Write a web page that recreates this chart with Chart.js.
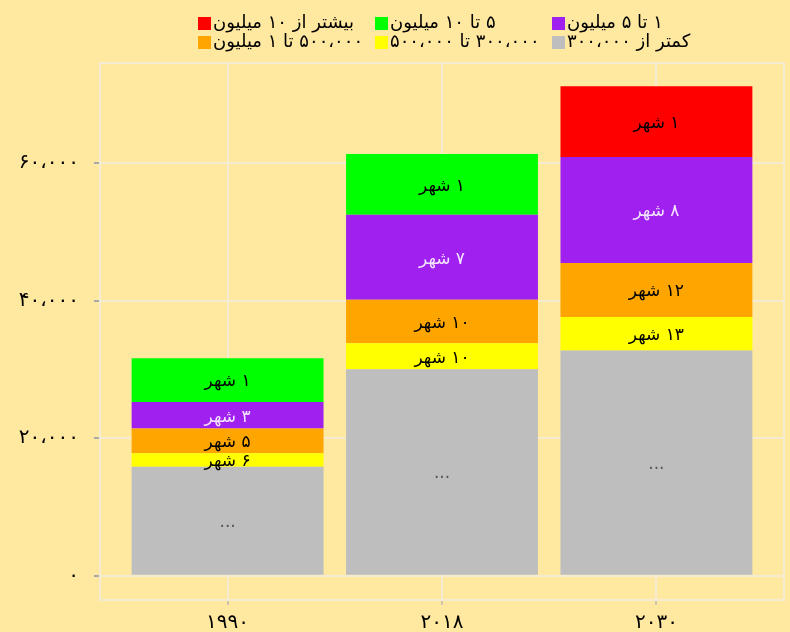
<!DOCTYPE html>
<html>
<head>
<meta charset="utf-8">
<script src="https://cdn.jsdelivr.net/npm/chart.js@4"></script>
<style>
  html, body { margin: 0; padding: 0; background: #ffe8a0; }
  #wrap { width: 790px; height: 632px; position: relative; }
</style>
</head>
<body>
<div id="wrap"><canvas id="c"></canvas></div>
<script>
// categories (years) and tick values
const years = ["۱۹۹۰", "۲۰۱۸", "۲۰۳۰"];
const yTicks = [0, 20000, 40000, 60000];

// series, bottom to top of each stack
const seriesNames = [
  "کمتر از ۳۰۰،۰۰۰",
  "۳۰۰،۰۰۰ تا ۵۰۰،۰۰۰",
  "۵۰۰،۰۰۰ تا ۱ میلیون",
  "۱ تا ۵ میلیون",
  "۵ تا ۱۰ میلیون",
  "بیشتر از ۱۰ میلیون",
];
const seriesColors = ["#bebebe", "#ffff00", "#ffa500", "#a020f0", "#00ff00", "#ff0000"];
const labelColors = ["#555555", "#000000", "#000000", "#f3e4ff", "#000000", "#000000"];

const under300k = [15850, 30020, 32730];
const from300to500k = [1950, 3780, 4860];
const from500kto1m = [3580, 6300, 7860];
const from1to5m = [3880, 12360, 15420];
const from5to10m = [6360, 8830, 0];
const over10m = [0, 0, 10270];

const under300kText = ["...", "...", "..."];
const from300to500kText = ["۶ شهر", "۱۰ شهر", "۱۳ شهر"];
const from500kto1mText = ["۵ شهر", "۱۰ شهر", "۱۲ شهر"];
const from1to5mText = ["۳ شهر", "۷ شهر", "۸ شهر"];
const from5to10mText = ["۱ شهر", "۱ شهر", ""];
const over10mText = ["", "", "۱ شهر"];

const values = [under300k, from300to500k, from500kto1m, from1to5m, from5to10m, over10m];
const texts = [under300kText, from300to500kText, from500kto1mText, from1to5mText, from5to10mText, over10mText];

const FA = "۰۱۲۳۴۵۶۷۸۹";
const toFa = (n) => String(n)
  .replace(/\B(?=(\d{3})+(?!\d))/g, "،")
  .replace(/\d/g, (d) => FA[d]);

const FONT = "'DejaVu Sans', sans-serif";
const GRID = "#f3ebd2";

const datasets = values.map((vals, i) => ({
  label: seriesNames[i],
  data: vals.map((v, j) => ({ x: j, y: v })),
  backgroundColor: seriesColors[i],
  borderWidth: 0,
  barPercentage: 0.895,
  categoryPercentage: 1,
  segText: texts[i],
  segColor: labelColors[i],
}));

// chart area frame
const framePlugin = {
  id: "frame",
  afterDraw(chart) {
    const { ctx, chartArea: a } = chart;
    ctx.save();
    ctx.strokeStyle = GRID;
    ctx.lineWidth = 2;
    ctx.strokeRect(a.left, a.top, a.right - a.left, a.bottom - a.top);
    ctx.restore();
  },
};

// city-count text in the middle of each segment
const segLabels = {
  id: "segLabels",
  afterDatasetsDraw(chart) {
    const { ctx } = chart;
    ctx.save();
    ctx.font = "17px " + FONT;
    ctx.textAlign = "center";
    ctx.textBaseline = "middle";
    ctx.direction = "rtl";
    chart.data.datasets.forEach((ds, i) => {
      const meta = chart.getDatasetMeta(i);
      meta.data.forEach((el, j) => {
        const t = ds.segText[j];
        if (!t) return;
        const { x, y, base } = el.getProps(["x", "y", "base"], true);
        ctx.fillStyle = ds.segColor;
        ctx.fillText(t, x, (y + base) / 2 + 2);
      });
    });
    ctx.restore();
  },
};

// legend as a 3-column grid, reversed order, boxes on the left
const gridLegend = {
  id: "gridLegend",
  afterDraw(chart) {
    const { ctx } = chart;
    const ds = chart.data.datasets.slice().reverse();
    ctx.save();
    ctx.font = "18px " + FONT;
    ctx.textBaseline = "middle";
    ctx.textAlign = "left";
    ctx.direction = "rtl";
    ds.forEach((d, k) => {
      const col = k % 3, row = Math.floor(k / 3);
      const x = 198 + col * 177;
      const y = 17 + row * 19;
      ctx.fillStyle = d.backgroundColor;
      ctx.fillRect(x, y, 13, 13);
      ctx.fillStyle = "#000";
      ctx.fillText(d.label, x + 15, y + 6);
    });
    ctx.restore();
  },
};

new Chart(document.getElementById("c"), {
  type: "bar",
  data: { datasets },
  plugins: [framePlugin, segLabels, gridLegend],
  options: {
    responsive: true,
    maintainAspectRatio: false,
    animation: false,
    layout: { padding: { top: 63, right: 6, left: 0, bottom: 0 } },
    plugins: { legend: { display: false }, tooltip: { enabled: false } },
    scales: {
      x: {
        type: "linear",
        stacked: true,
        offset: false,
        min: -0.595,
        max: 2.595,
        afterBuildTicks: (s) => { s.ticks = years.map((_, i) => ({ value: i })); },
        afterFit: (s) => { s.height = 32; },
        grid: { offset: false, color: GRID, lineWidth: 2, tickLength: 5, tickColor: "#cfc6b0" },
        border: { display: false },
        ticks: {
          color: "#000",
          padding: 6,
          font: { family: FONT, size: 20 },
          callback: (v) => years[v],
        },
      },
      y: {
        stacked: true,
        min: -3535,
        max: 74530,
        afterBuildTicks: (s) => { s.ticks = yTicks.map((v) => ({ value: v })); },
        afterFit: (s) => { s.width = 100; },
        grid: { color: GRID, lineWidth: 2, tickLength: 6, tickColor: "#aaa" },
        border: { display: false },
        ticks: {
          color: "#000",
          padding: 15,
          font: { family: FONT, size: 20 },
          callback: (v) => toFa(v),
        },
      },
    },
  },
});
</script>
</body>
</html>
